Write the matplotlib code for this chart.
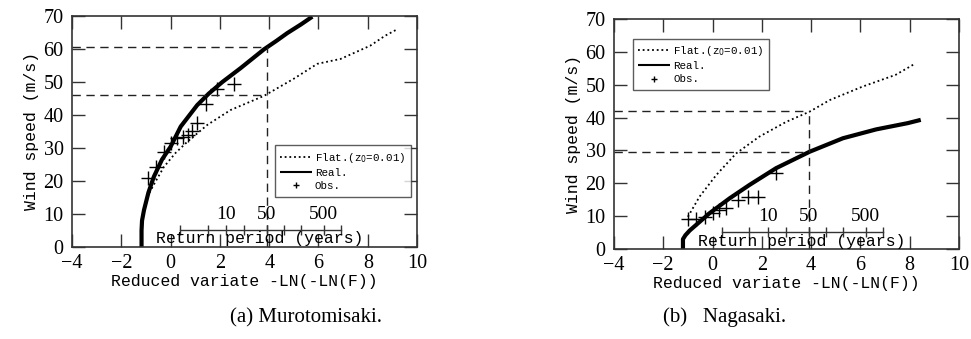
import numpy as np
import matplotlib
matplotlib.use("Agg")
import matplotlib.pyplot as plt

# ---- data ----
# (a) Murotomisaki
a_real_x = [-1.18, -1.18, -1.16, -1.08, -0.9, -0.68, -0.35, 0.0, 0.41, 1.08, 1.55, 2.1, 2.84, 3.79, 4.3, 4.73, 5.3, 5.75]
a_real_y = [0, 5, 8, 11.2, 16.5, 21.3, 26.5, 30.4, 36.5, 43, 46.5, 50.0, 54.2, 59.9, 62.5, 64.8, 67.5, 69.8]
a_flat_x = [-0.95, -0.6, -0.27, 0.2, 0.68, 1.49, 2.43, 3.79, 5.0, 5.95, 6.9, 8.1, 8.7, 9.2]
a_flat_y = [15.2, 20, 24.3, 28.5, 31.9, 37, 41.5, 45.8, 51, 55.5, 57, 61, 64, 66]
a_obs_x = [-0.92, -0.61, -0.27, 0.0, 0.27, 0.5, 0.7, 0.85, 1.06, 1.42, 1.9, 2.57]
a_obs_y = [20.8, 24.2, 28.9, 31.4, 32.9, 33.3, 34.0, 35.0, 37.5, 43.3, 47.9, 49.4]
a_design = [60.5, 46.0]

# (b) Nagasaki
b_real_x = [-1.2, -1.2, -1.1, -0.93, -0.12, 0.69, 1.5, 2.58, 3.94, 5.29, 6.64, 7.92, 8.45]
b_real_y = [0, 3.0, 4.2, 5.6, 10.9, 15.4, 19.5, 24.6, 29.6, 33.7, 36.4, 38.3, 39.3]
b_flat_x = [-1.0, -0.53, 0.15, 0.96, 1.9, 2.99, 3.94, 4.75, 6.08, 7.43, 8.24]
b_flat_y = [9.8, 15.9, 22.5, 29.1, 34.2, 38.7, 41.8, 45.3, 49.4, 53, 56.5]
b_obs_x = [-1.0, -0.66, -0.3, 0.0, 0.28, 0.56, 1.03, 1.43, 1.84, 2.58]
b_obs_y = [9.0, 9.0, 9.6, 10.9, 11.9, 12.4, 14.9, 15.7, 15.7, 23.2]
b_design = [42.0, 29.4]

# return period axis
rp_ticks = [2, 5, 10, 20, 50, 100, 200, 500, 1000]
rp_labels = [10, 50, 500]
design_T = 50

SERIF = ["Liberation Serif", "DejaVu Serif"]
MONO = ["Liberation Mono", "DejaVu Sans Mono"]


def reduced(T):
    T = np.asarray(T, dtype=float)
    return -np.log(-np.log(1.0 - 1.0 / T))


def panel(ax, rx, ry, fx, fy, ox, oy, design, anchor):
    ax.plot(fx, fy, color="black", lw=1.3, ls=(0, (1, 1.6)), label="Flat.(z$_0$=0.01)")
    ax.plot(rx, ry, color="black", lw=3.0, solid_capstyle="butt", label="Real.")
    ax.plot(ox, oy, "+", color="black", ms=10, mew=1.0, ls="none", label="Obs.")

    # design values at 50-year return period
    x50 = float(reduced(design_T))
    dash = dict(color="#222222", lw=1.0, ls=(0, (6, 4)))
    ax.plot([x50, x50], [0, max(design)], **dash)
    for v in design:
        ax.plot([-4, x50], [v, v], **dash)

    # return period scale drawn inside the axes
    y_rp = 5.3
    xt = reduced(rp_ticks)
    ax.plot([xt[0], xt[-1]], [y_rp, y_rp], color="#333333", lw=1.0)
    ax.plot(xt, [y_rp] * len(xt), "|", color="#333333", ms=7, mew=1.0)
    for T in rp_labels:
        ax.text(float(reduced(T)), y_rp + 2.1, str(T), ha="center", va="bottom",
                fontsize=14, family=SERIF)
    ax.text(3.62, y_rp - 0.6, "Return period (years)", ha="center", va="top",
            fontsize=11.9, family=MONO)

    ax.set_xlim(-4, 10)
    ax.set_ylim(0, 70)
    ax.set_xticks(np.arange(-4, 11, 2))
    ax.set_yticks(np.arange(0, 71, 10))
    ax.tick_params(direction="in", length=9.5, width=1.0, top=True, right=True,
                   labelsize=14.5, color="#333333")
    ax.tick_params(axis="x", pad=5)
    ax.tick_params(axis="y", pad=6)
    for lab in ax.get_xticklabels() + ax.get_yticklabels():
        lab.set_family(SERIF)
    for s in ax.spines.values():
        s.set_linewidth(1.2)
        s.set_color("#333333")
    ax.set_xlabel("Reduced variate -LN(-LN(F))", fontsize=11.9, family=MONO, labelpad=1)
    ax.set_ylabel("Wind speed (m/s)", fontsize=11.9, family=MONO, labelpad=3)

    leg = ax.legend(loc="upper left", bbox_to_anchor=anchor,
                    prop={"family": MONO, "size": 7.8},
                    frameon=True, fancybox=False, edgecolor="#333333",
                    handlelength=2.9, handletextpad=0.3, borderpad=0.5,
                    labelspacing=0.3, borderaxespad=0.0)
    leg.get_frame().set_linewidth(1.0)
    hs = leg.legend_handles
    hs[1].set_linewidth(1.5)
    hs[2].set_markersize(5)
    return leg


fig = plt.figure(figsize=(9.71, 3.39), dpi=100)
ax1 = fig.add_axes([0.0742, 0.2714, 0.3553, 0.6814])
ax2 = fig.add_axes([0.6323, 0.2655, 0.3553, 0.6785])

panel(ax1, a_real_x, a_real_y, a_flat_x, a_flat_y, a_obs_x, a_obs_y, a_design, (0.588, 0.44))
panel(ax2, b_real_x, b_real_y, b_flat_x, b_flat_y, b_obs_x, b_obs_y, b_design, (0.055, 0.915))

fig.text(0.3155, 0.035, "(a) Murotomisaki.", ha="center", va="bottom", fontsize=15, family=SERIF)
fig.text(0.7465, 0.035, "(b)   Nagasaki.", ha="center", va="bottom", fontsize=15, family=SERIF)

fig.savefig("out.png", dpi=100)
